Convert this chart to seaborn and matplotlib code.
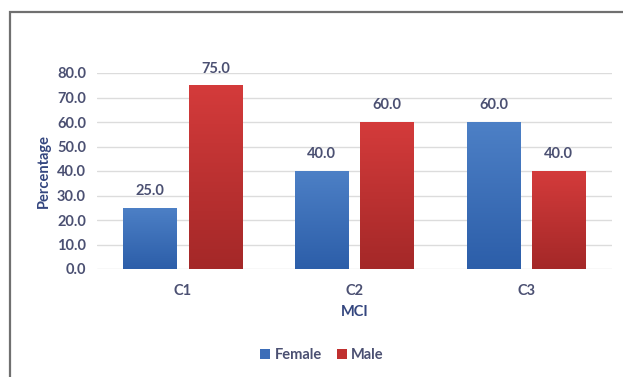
import numpy as np
import pandas as pd
import matplotlib
matplotlib.use("Agg")
import matplotlib.pyplot as plt
import seaborn as sns
from matplotlib.colors import LinearSegmentedColormap
from matplotlib.patches import Rectangle

# Percentage of each sex within each MCI cluster
clusters = ["C1", "C2", "C3"]
female = [25.0, 40.0, 60.0]
male = [75.0, 60.0, 40.0]
sexes = ["Female", "Male"]
y_ticks = [0, 10, 20, 30, 40, 50, 60, 70, 80]

df = pd.DataFrame({
    "MCI": clusters * 2,
    "Sex": ["Female"] * len(clusters) + ["Male"] * len(clusters),
    "Percentage": female + male,
})

sns.set_theme(style="white")
plt.rcParams["font.family"] = ["Lato", "DejaVu Sans"]

text_col = "#4b5072"
title_col = "#34467f"
fs = 10.5
palette = {"Female": "#3b6db8", "Male": "#c0302f"}
gradients = {
    "Female": ("#2c5ea9", "#4d80c6"),
    "Male": ("#a42828", "#d43b3b"),
}

fig = plt.figure(figsize=(6.23, 3.77), dpi=100)
ax = fig.add_axes([97 / 623, 1 - 269 / 377, (612 - 97) / 623, (269 - 73) / 377])

sns.barplot(data=df, x="MCI", y="Percentage", hue="Sex", hue_order=sexes,
            palette=palette, width=0.76, gap=0.18, saturation=1,
            linewidth=0, ax=ax)

ax.set_ylim(0, 80)
xlim = ax.get_xlim()

# vertical gradient fill on each bar, clipped to the bar shape
for sex, cont in zip(sexes, ax.containers):
    cmap = LinearSegmentedColormap.from_list(sex, gradients[sex])
    grad = np.linspace(0, 1, 256).reshape(-1, 1)
    for bar in cont:
        x0, y0 = bar.get_x(), bar.get_y()
        w, h = bar.get_width(), bar.get_height()
        im = ax.imshow(grad, cmap=cmap, extent=[x0, x0 + w, y0, y0 + h],
                       origin="lower", aspect="auto", zorder=bar.get_zorder() + 0.1)
        im.set_clip_path(bar)
    ax.bar_label(cont, fmt="%.1f", padding=7, color=text_col,
                 fontsize=fs, fontweight="bold")

ax.set_xlim(xlim)
ax.set_ylim(0, 80)
ax.set_yticks(y_ticks)
ax.set_yticklabels([f"{v:.1f}" for v in y_ticks])
ax.yaxis.grid(True, color="#dcdcdc", linewidth=1)
ax.set_axisbelow(True)
sns.despine(ax=ax, left=True, bottom=True)
ax.tick_params(axis="both", length=0, labelsize=fs, labelcolor=text_col)
ax.tick_params(axis="y", pad=8)
ax.tick_params(axis="x", pad=11)
for lbl in ax.get_xticklabels() + ax.get_yticklabels():
    lbl.set_fontweight("bold")

ax.set_xlabel("MCI", fontsize=fs, fontweight="bold", color=title_col, labelpad=5)
ax.set_ylabel("Percentage", fontsize=fs, fontweight="bold", color=title_col, labelpad=4)

sns.move_legend(ax, "center", bbox_to_anchor=(322 / 623, 1 - 355 / 377),
                bbox_transform=fig.transFigure, ncol=2, frameon=False,
                title=None, fontsize=fs, handlelength=0.7, handleheight=0.7,
                handletextpad=0.3, columnspacing=1.0)
for t in ax.get_legend().get_texts():
    t.set_color(text_col)
    t.set_fontweight("bold")

# outer frame around the chart
fig.patches.append(Rectangle((10 / 623, -0.1), 1.0, 1 - 12 / 377 + 0.1,
                             transform=fig.transFigure, fill=False,
                             edgecolor="#707070", linewidth=1.6))

fig.savefig("out.png", dpi=100)
